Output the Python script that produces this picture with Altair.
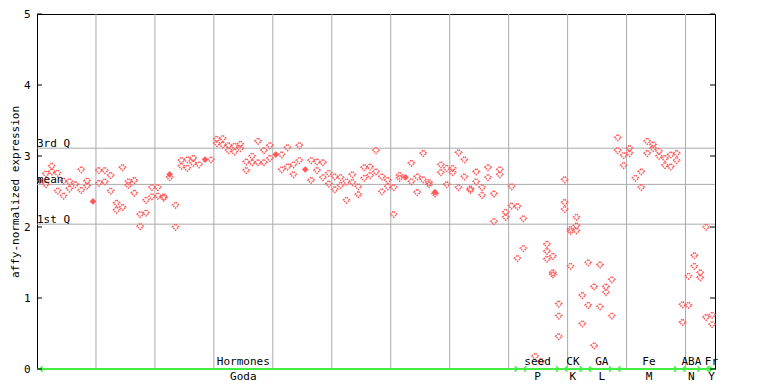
import altair as alt
import pandas as pd

# ---- data ----
goda = [
    [2.65, 2.65], [2.75, 2.60], [2.86, 2.78], [2.76, 2.51], [2.65, 2.44],
    [2.64, 2.54], [2.60], [2.81, 2.52], [2.65, 2.58], [2.36, 2.36],
    [2.80, 2.62], [2.80, 2.64], [2.73, 2.51], [2.34, 2.24], [2.84, 2.28],
    [2.64, 2.59], [2.66, 2.48], [2.18, 2.01], [2.38, 2.20], [2.56, 2.43],
    [2.56, 2.44], [2.43, 2.41], [2.74, 2.74, 2.70], [2.31, 2.00], [2.94, 2.86],
    [2.95, 2.83], [2.97, 2.90], [2.88], [2.95, 2.95], [2.95],
    [3.24, 3.18], [3.25, 3.16], [3.15, 3.08], [3.14, 3.06], [3.17, 3.11],
    [2.92, 2.80], [3.00, 2.91], [3.21, 2.91], [3.08, 2.91], [3.15, 2.97],
    [3.02, 3.02], [3.02, 2.81], [3.12, 2.85], [2.88, 2.74], [3.15, 2.94],
    [2.81, 2.81], [2.94, 2.66], [2.92, 2.80], [2.91, 2.70], [2.76, 2.61],
    [2.71, 2.53], [2.70, 2.59], [2.64, 2.38], [2.74, 2.63], [2.57, 2.46],
    [2.84, 2.69], [2.85, 2.73], [3.08, 2.78], [2.71, 2.50], [2.66, 2.57],
    [2.56, 2.18], [2.73, 2.69], [2.70, 2.70], [2.90, 2.64], [2.71, 2.49],
    [3.04, 2.67], [2.63, 2.60], [2.49, 2.49, 2.47], [2.88, 2.77], [2.83, 2.60],
    [2.83, 2.77], [3.05, 2.56], [2.95, 2.71], [2.54, 2.52], [2.78, 2.64],
    [2.56, 2.45], [2.84, 2.70], [2.47, 2.08], [2.81, 2.74], [2.21, 2.14],
    [2.57, 2.30], [2.29, 1.56],
]
seed = [[2.12, 1.70], [], [0.18], [0.11], [1.76, 1.66, 1.55], [1.59, 1.36, 1.33], [0.92, 0.75, 0.46]]
ck = [[2.67, 2.35, 2.25], [1.97, 1.94, 1.45], [2.14, 2.02, 1.95], [1.04, 0.64]]
ga = [[1.50, 0.90], [1.16, 0.33], [1.47, 0.88], [1.16, 1.08], [1.26, 0.75]]
fe = [[3.26, 3.08], [3.01, 2.87], [3.11, 3.04], [2.69], [2.78, 2.56], [3.21, 3.04],
      [3.16, 3.11], [3.07, 3.00], [2.97, 2.87], [3.02, 2.85], [3.04, 2.94]]
aba = [[0.91, 0.66], [1.31, 0.90], [1.60, 1.45], [1.36, 1.29]]
fr = [[2.00, 0.73], [0.76, 0.63]]

groups = [goda, seed, ck, ga, fe, aba, fr]
top_labels = ["Hormones", "seed", "CK", "GA", "Fe", "ABA", "Fr"]
bottom_labels = ["Goda", "P", "K", "L", "M", "N", "Y"]
label_pos = [34.5, 84.4, 90.4, 95.3, 103.3, 110.5, 113.9]

quart_values = [3.11, 2.60, 2.04]
quart_labels = ["3rd Q", "mean", "1st Q"]
y_ticks = [0, 1, 2, 3, 4, 5]
grid_x = [9.5, 19.5, 29.5, 39.5, 49.5, 59.5, 69.5, 79.5, 89.5, 99.5, 109.5]

# ---- build tables ----
rows = []
arrows = []
k = 0
for g in groups:
    start = k
    for vals in g:
        seen = {}
        for v in vals:
            seen[v] = seen.get(v, 0) + 1
        for v, c in seen.items():
            rows.append({"k": k, "v": v, "filled": c > 1})
        k += 1
    arrows.append({"k": start, "dir": "left"})
    arrows.append({"k": k - 1, "dir": "right"})
N = k
pts = pd.DataFrame(rows)
arr = pd.DataFrame(arrows)
labs = pd.DataFrame({"k": label_pos, "top": top_labels, "bottom": bottom_labels})
quart = pd.DataFrame({"v": quart_values, "label": quart_labels})
ticks = pd.DataFrame({"v": y_ticks})
gridd = pd.DataFrame({"k": grid_x})

W, H = 678, 355
FONT = "DejaVu Sans Mono"
RED = "#ff5a5a"
GRAY = "#aaaaaa"
GREEN = "#44ee44"

xs = alt.Scale(domain=[-0.5, N - 0.5], nice=False, zero=False)
ys = alt.Scale(domain=[0, 5], nice=False, zero=False)
yaxis = alt.Axis(values=y_ticks, ticks=False, grid=False, domain=False,
                 labelFont=FONT, labelFontSize=11, labelPadding=7,
                 labelColor="black", title="affy-normalized expression",
                 titleFont=FONT, titleFontSize=11, titleFontWeight="normal",
                 titleColor="black", titlePadding=3)
X = lambda f: alt.X(f, type="quantitative", scale=xs, axis=None)
Y = lambda f: alt.Y(f, type="quantitative", scale=ys, axis=yaxis)

axis_main = alt.Chart(ticks).mark_point(opacity=0).encode(y=Y("v"), x=alt.value(0))

vgrid = alt.Chart(gridd).mark_rule(color=GRAY, strokeWidth=1).encode(
    x=X("k"), y=alt.value(0), y2=alt.value(H))

qrule = alt.Chart(quart).mark_rule(color=GRAY, strokeWidth=1).encode(
    y=Y("v"), x=alt.value(0), x2=alt.value(W))
qtext = alt.Chart(quart).mark_text(align="left", baseline="bottom", font=FONT, fontSize=11,
                                   color="black", dy=1).encode(
    y=Y("v"), x=alt.value(0), text="label:N")

hollow = alt.Chart(pts[~pts["filled"]]).mark_point(
    shape="diamond", size=40, filled=False, color=RED, strokeWidth=1.5,
    strokeDash=[1.5, 1], opacity=1).encode(x=X("k"), y=Y("v"))
filled = alt.Chart(pts[pts["filled"]]).mark_point(
    shape="diamond", size=45, filled=True, color=RED, opacity=1).encode(x=X("k"), y=Y("v"))

lticks = alt.Chart(ticks).mark_rule(color="black").encode(
    y=Y("v"), x=alt.value(0), x2=alt.value(5))
rticks = alt.Chart(ticks).mark_rule(color="black").encode(
    y=Y("v"), x=alt.value(W - 5), x2=alt.value(W))

green = alt.Chart(pd.DataFrame({"a": [-0.5], "b": [N - 0.5], "v": [0]})).mark_rule(
    color=GREEN, strokeWidth=2).encode(x=X("a"), x2="b:Q", y=Y("v"))
arr_r = alt.Chart(arr[arr["dir"] == "right"]).mark_point(
    shape="M -1 -1 L 0 0 L -1 1", size=30, filled=False, color=GREEN, strokeWidth=1.5,
    opacity=1).encode(x=X("k"), y=alt.value(H))
arr_l = alt.Chart(arr[arr["dir"] == "left"]).mark_point(
    shape="M 1 -1 L 0 0 L 1 1", size=30, filled=False, color=GREEN, strokeWidth=1.5,
    opacity=1).encode(x=X("k"), y=alt.value(H))

ttop = alt.Chart(labs).mark_text(baseline="bottom", font=FONT, fontSize=11, color="black",
                                 dy=-2).encode(x=X("k"), y=alt.value(H), text="top:N")
tbot = alt.Chart(labs).mark_text(baseline="top", font=FONT, fontSize=11, color="black",
                                 dy=2).encode(x=X("k"), y=alt.value(H), text="bottom:N")

chart = alt.layer(
    axis_main, vgrid, qrule, hollow, filled, qtext, green, arr_r, arr_l,
    lticks, rticks, ttop, tbot
).properties(
    width=W, height=H,
    autosize=alt.AutoSizeParams(type="none"),
    padding={"left": 29, "top": 6, "right": 30, "bottom": 14},
    background="white",
).configure_view(stroke="black", strokeWidth=1)

chart.save("out.html", embed_options={"renderer": "svg", "actions": False})
